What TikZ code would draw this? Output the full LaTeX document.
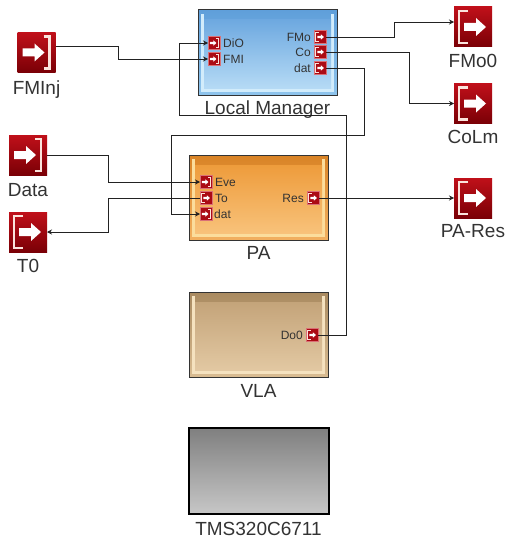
\documentclass[tikz,border=0pt]{standalone}
\usepackage{fontspec}
\setmainfont{Liberation Sans}
\usepackage{xcolor}
\usetikzlibrary{arrows.meta, positioning}
\definecolor{lbl}{HTML}{333333}
\definecolor{wire}{HTML}{222222}
\definecolor{redhi}{HTML}{C0101A}
\definecolor{redlo}{HTML}{7A0006}
\definecolor{edge}{HTML}{FBE3DC}
% block colours: rim top, rim bottom, inner top, inner bottom, frame
\definecolor{lmA}{HTML}{5F9FDA}\definecolor{lmB}{HTML}{8FC4EC}\definecolor{lmC}{HTML}{6EA9E0}\definecolor{lmD}{HTML}{B5DAF5}\definecolor{lmE}{HTML}{D2ECFB}
\definecolor{paA}{HTML}{D98326}\definecolor{paB}{HTML}{F2B060}\definecolor{paC}{HTML}{EE9C3C}\definecolor{paD}{HTML}{F8C27A}\definecolor{paE}{HTML}{FBDD9C}
\definecolor{vlaA}{HTML}{A98A60}\definecolor{vlaB}{HTML}{D9BC92}\definecolor{vlaC}{HTML}{C4A47A}\definecolor{vlaD}{HTML}{E2C8A2}\definecolor{vlaE}{HTML}{F5E2BF}
\tikzset{
    % white glyph of a terminal, drawn at 1 for the 38x40 size
    glyphin/.style={path picture={
        \begin{scope}[shift={(path picture bounding box.center)}, x=#1pt, y=-#1pt]
            \fill[white] (-14,-4) -- (-2,-4) -- (-2,-9) -- (8,0) -- (-2,9) -- (-2,4) -- (-14,4) -- cycle;
            \draw[edge, line width=#1*2.2pt] (7,-16) -- (13,-16) -- (13,16) -- (7,16);
        \end{scope}}},
    glyphout/.style={path picture={
        \begin{scope}[shift={(path picture bounding box.center)}, x=#1pt, y=-#1pt]
            \fill[white] (-9,-4) -- (3,-4) -- (3,-9) -- (13,0) -- (3,9) -- (3,4) -- (-9,4) -- cycle;
            \draw[edge, line width=#1*2.2pt] (-5,-16) -- (-14,-16) -- (-14,16) -- (-5,16);
        \end{scope}}},
    terminal/.style={rectangle, inner sep=0pt, outer sep=0pt, minimum width=38pt, minimum height=40pt, top color=redhi, bottom color=redlo},
    port/.style={rectangle, inner sep=0pt, outer sep=0pt, minimum width=12pt, minimum height=13pt, fill=redhi!70!redlo, draw=redhi!60!white, line width=.5pt},
    block/.style={rectangle, inner sep=0pt, outer sep=0pt, minimum width=139pt, minimum height=85pt, draw=black!80, line width=1pt,
        top color=#1A, bottom color=#1B, path picture={
            \draw[#1E, line width=3pt] ([shift={(4.5pt,-4pt)}]path picture bounding box.north west) -- ([shift={(4.5pt,4.5pt)}]path picture bounding box.south west) -- ([shift={(-4.5pt,4.5pt)}]path picture bounding box.south east) -- ([shift={(-4.5pt,-4pt)}]path picture bounding box.north east);
            \shade[top color=#1C, bottom color=#1D] ([shift={(6pt,7pt)}]path picture bounding box.south west) rectangle ([shift={(-6pt,-10pt)}]path picture bounding box.north east);
            }},
    chip/.style={rectangle, inner sep=0pt, outer sep=0pt, minimum width=140pt, minimum height=86pt, draw=black, line width=2pt, top color=black!50, bottom color=black!22},
    title/.style={font=\fontsize{19}{21}\selectfont, text=lbl, inner sep=0pt},
    portname/.style={font=\fontsize{12}{14}\selectfont, text=lbl, inner sep=0pt},
    arrow/.style={-{Stealth[length=5pt, width=5pt]}, draw=wire, line width=.8pt},
    x=1pt, y=-1pt
}
\begin{document}
\begin{tikzpicture}
    \useasboundingbox (0,0) rectangle (505,543);

    % Blocks
    \node[block=lm] (lm) at (267.5,52.5) {};
    \node[block=pa, below=60pt of lm.south, xshift=-9pt, anchor=north] (pa) {};
    \node[block=vla, below=52pt of pa.south, anchor=north] (vla) {};
    \node[chip, below=51pt of vla.south, anchor=north] (tms) {};

    \node[title, below=6pt of lm.south, anchor=north] (lmname) {Local Manager};
    \node[title, below=6pt of pa.south, anchor=north] (paname) {PA};
    \node[title, below=7pt of vla.south, anchor=north] (vlaname) {VLA};
    \node[title, below=8pt of tms.south, anchor=north] (tmsname) {TMS320C6711};

    % Terminals
    \node[terminal, glyphin=1] (fminj) at (36.5,52.5) {};
    \node[terminal, glyphin=1] (data) at (28,155) {};
    \node[terminal, glyphout=1] (t0) at (28,232) {};
    \node[terminal, glyphout=1] (fmo0) at (473,27) {};
    \node[terminal, glyphout=1] (colm) at (473,103.5) {};
    \node[terminal, glyphout=1] (pares) at (473,198) {};

    \node[title, below=8pt of fminj.south, anchor=north] (fminjname) {FMInj};
    \node[title, below=8pt of data.south, anchor=north] (dataname) {Data};
    \node[title, below=7pt of t0.south, anchor=north] (t0name) {T0};
    \node[title, below=7pt of fmo0.south, anchor=north] (fmo0name) {FMo0};
    \node[title, below=7pt of colm.south, anchor=north] (colmname) {CoLm};
    \node[title, below=6pt of pares.south, anchor=north] (paresname) {PA-Res};

    % Ports
    \node[port, glyphin=.3] (di0) at (214,43) {};
    \node[port, glyphin=.3] (fmi) at (214,59) {};
    \node[port, glyphout=.3] (fmo) at (320,37) {};
    \node[port, glyphout=.3] (co) at (320,52) {};
    \node[port, glyphout=.3] (datout) at (320,68) {};
    \node[port, glyphin=.3] (eve) at (206,182) {};
    \node[port, glyphout=.3] (to) at (206,198) {};
    \node[port, glyphin=.3] (datin) at (206,214) {};
    \node[port, glyphout=.3] (res) at (313,198) {};
    \node[port, glyphout=.3] (do0) at (312,335) {};

    \node[portname, right=3pt of di0] (di0name) {DiO};
    \node[portname, right=3pt of fmi] (fminame) {FMI};
    \node[portname, left=3pt of fmo] (fmoname) {FMo};
    \node[portname, left=3pt of co] (coname) {Co};
    \node[portname, left=3pt of datout] (datoutname) {dat};
    \node[portname, right=3pt of eve] (evename) {Eve};
    \node[portname, right=3pt of to] (toname) {To};
    \node[portname, right=2pt of datin] (datinname) {dat};
    \node[portname, left=3pt of res] (resname) {Res};
    \node[portname, left=3pt of do0] (do0name) {Do0};

    % Arrows
    \draw[arrow] ([yshift=6.5pt]fminj.east) -- (118,46) -- (118,59) -- (fmi.west);
    \draw[arrow] (do0.east) -- (346,335) -- (346,115) -- (179,115) -- (179,43) -- (di0.west);
    \draw[arrow] (datout.east) -- (364,68) -- (364,135) -- (171,135) -- (171,214) -- (datin.west);
    \draw[arrow] (data.east) -- (108,155) -- (108,182) -- (eve.west);
    \draw[arrow] (to.west) -- (108,198) -- (108,232) -- (t0.east);
    \draw[arrow] (res.east) -- (pares.west);
    \draw[arrow] (fmo.east) -- (394,37) -- (394,22) -- ([yshift=5pt]fmo0.west);
    \draw[arrow] (co.east) -- (409,52) -- (409,103.5) -- (colm.west);
\end{tikzpicture}
\end{document}
